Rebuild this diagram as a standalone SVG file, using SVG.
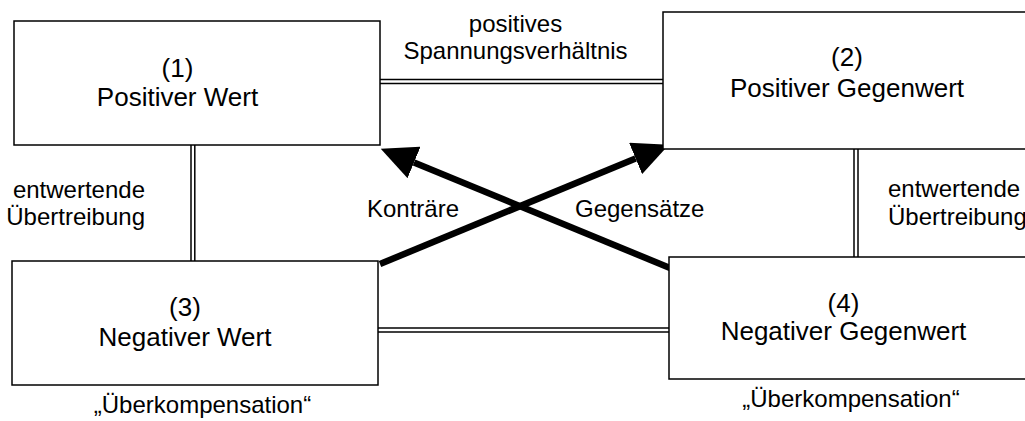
<svg xmlns="http://www.w3.org/2000/svg" width="1025" height="421" viewBox="0 0 1025 421">
<style>
.box{fill:#fff;stroke:#000;stroke-width:1.5}
.dbl{stroke:#000;stroke-width:1.5;fill:none}
.arr{stroke:#000;stroke-width:6.5;fill:none;marker-end:url(#ah)}
text{font-family:"Liberation Sans",Arial,sans-serif;fill:#000}
.t{font-size:26px;text-anchor:middle}
.l{font-size:24px}
.c{text-anchor:middle}
</style>
<defs>
<marker id="ah" markerUnits="userSpaceOnUse" markerWidth="36" markerHeight="34" viewBox="0 0 36 34" refX="0" refY="17" orient="auto">
<path d="M0,0 L36,17 L0,34 z" fill="#000"/>
</marker>
</defs>
<g id="connectors">
<line class="dbl" x1="380" y1="79.5" x2="663" y2="79.5"/>
<line class="dbl" x1="380" y1="83.5" x2="663" y2="83.5"/>
<line class="dbl" x1="191" y1="145" x2="191" y2="261"/>
<line class="dbl" x1="194.8" y1="145" x2="194.8" y2="261"/>
<line class="dbl" x1="854" y1="149" x2="854" y2="257"/>
<line class="dbl" x1="858" y1="149" x2="858" y2="257"/>
<line class="dbl" x1="378" y1="328" x2="669" y2="328"/>
<line class="dbl" x1="378" y1="332" x2="669" y2="332"/>
<path class="arr" d="M380,264 L635.6,158.4"/>
<path class="arr" d="M670,268 L414,162.5"/>
</g>
<g id="node1">
<rect class="box" x="14" y="21" width="366" height="124"/>
<text class="t" x="177.5" y="77">(1)</text>
<text class="t" x="177.5" y="106">Positiver Wert</text>
</g>
<g id="node2">
<rect class="box" x="663" y="12" width="370" height="137"/>
<text class="t" x="847" y="66">(2)</text>
<text class="t" x="847" y="97">Positiver Gegenwert</text>
</g>
<g id="node3">
<rect class="box" x="12" y="261" width="366" height="124"/>
<text class="t" x="185" y="316">(3)</text>
<text class="t" x="185" y="346">Negativer Wert</text>
</g>
<g id="node4">
<rect class="box" x="669" y="257" width="370" height="122"/>
<text class="t" x="843.5" y="312">(4)</text>
<text class="t" x="843.5" y="340">Negativer Gegenwert</text>
</g>
<g id="labels">
<text class="l c" x="515.5" y="32">positives</text>
<text class="l c" x="515.5" y="59">Spannungsverhältnis</text>
<text class="l" x="145" y="198" text-anchor="end">entwertende</text>
<text class="l" x="145" y="225" text-anchor="end">Übertreibung</text>
<text class="l" x="888" y="197">entwertende</text>
<text class="l" x="888" y="225">Übertreibung</text>
<text class="l" x="367" y="217">Konträre</text>
<text class="l" x="575" y="217">Gegensätze</text>
<text class="l c" x="202.5" y="413">„Überkompensation“</text>
<text class="l c" x="851" y="407">„Überkompensation“</text>
</g>
</svg>
